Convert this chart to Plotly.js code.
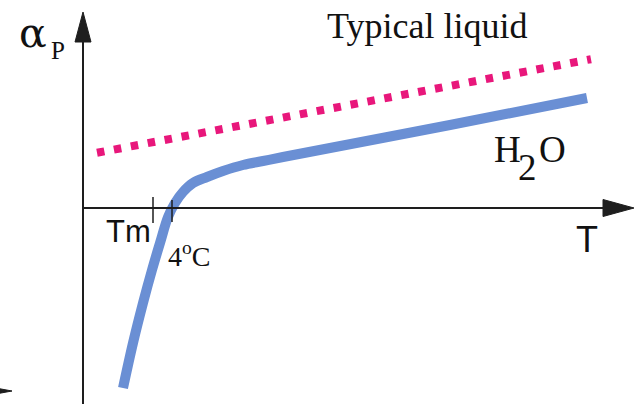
<!DOCTYPE html>
<html>
<head>
<meta charset="utf-8">
<script src="https://cdn.plot.ly/plotly-3.0.1.min.js"></script>
<style>
  html, body { margin: 0; padding: 0; background: #ffffff; }
  #chart { width: 637px; height: 404px; }
</style>
</head>
<body>
<div id="chart"></div>
<script>
// Schematic thermal expansion coefficient alpha_P against temperature T.
// Units are arbitrary; the axes cross at (0, 0).

// Water: steep rise through the melting region, then a gentle linear growth.
const waterT     = [4.0, 5.0, 6.0, 6.9, 7.7, 8.5, 9.2, 10.0, 11.0, 12.4, 14.0, 16.0, 18.0, 20.0, 36.7, 50.4];
const waterAlpha = [-18.0, -13.5, -9.5, -6.2, -3.5, -0.9, 0.5, 1.6, 2.5, 3.1, 3.7, 4.3, 4.7, 5.1, 8.3, 11.0];

// Typical liquid: a straight, positive line.
const liquidT     = [1.4, 50.8];
const liquidAlpha = [5.52, 14.88];

// Marked temperatures on the T axis.
const tickNames = ["Tm", "4°C"];
const tickT     = [7.0, 8.9];

const xRange = [-8.3, 55.4];
const yRange = [-19.6, 20.8];

const axisColor = "#1e1e1e";
const serif = "Liberation Serif, Times New Roman, serif";
const sans  = "Liberation Sans, Arial, sans-serif";

const traces = [
  {
    x: liquidT, y: liquidAlpha, mode: "lines", type: "scatter",
    line: { color: "#e8177b", width: 8, dash: "7.5px,9.7px" },
    hoverinfo: "skip"
  },
  {
    x: waterT, y: waterAlpha, mode: "lines", type: "scatter",
    line: { color: "#6a8fd4", width: 10, shape: "spline", smoothing: 1.0 },
    hoverinfo: "skip"
  }
];

const shapes = [
  // vertical axis and its arrow head
  { type: "line", xref: "x", yref: "y", x0: 0, x1: 0, y0: yRange[0], y1: 17.0,
    line: { color: axisColor, width: 2 } },
  { type: "path", xref: "x", yref: "y",
    path: "M -0.8,16.6 L 0,19.6 L 0.8,16.6 Z",
    fillcolor: axisColor, line: { color: axisColor, width: 1 } },
  // horizontal axis and its arrow head
  { type: "line", xref: "x", yref: "y", x0: 0, x1: 52.2, y0: 0, y1: 0,
    line: { color: axisColor, width: 2 } },
  { type: "path", xref: "x", yref: "y",
    path: "M 52.0,0.85 L 55.1,0 L 52.0,-0.85 Z",
    fillcolor: axisColor, line: { color: axisColor, width: 1 } },
  // arrow head of a neighbouring axis peeking in at the lower left
  { type: "path", xref: "x", yref: "y",
    path: "M -9.3,-17.9 L -7.1,-18.3 L -9.3,-18.7 Z",
    fillcolor: axisColor, line: { color: axisColor, width: 1 } }
];

// tick marks for Tm and 4°C
const tickSpan = [[1.1, -1.5], [0.8, -1.4]];
tickT.forEach((t, i) => {
  shapes.push({ type: "line", xref: "x", yref: "y", x0: t, x1: t,
    y0: tickSpan[i][1], y1: tickSpan[i][0],
    line: { color: axisColor, width: 1.5 } });
});

const annotations = [
  { x: -6.6, y: 17.5, text: "α", font: { family: "DejaVu Serif, serif", size: 41, color: "#111" },
    xanchor: "left", yanchor: "middle", showarrow: false },
  { x: -3.4, y: 15.8, text: "P", font: { family: serif, size: 25, color: "#111" },
    xanchor: "left", yanchor: "middle", showarrow: false },
  { x: 34.4, y: 18.2, text: "Typical liquid", font: { family: serif, size: 36, color: "#111" },
    xanchor: "center", yanchor: "middle", showarrow: false },
  { x: 42.45, y: 5.85, text: "H", font: { family: serif, size: 37, color: "#111" },
    xanchor: "center", yanchor: "middle", showarrow: false },
  { x: 44.45, y: 4.1, text: "2", font: { family: serif, size: 37, color: "#111" },
    xanchor: "center", yanchor: "middle", showarrow: false },
  { x: 46.95, y: 5.85, text: "O", font: { family: serif, size: 37, color: "#111" },
    xanchor: "center", yanchor: "middle", showarrow: false },
  { x: 50.4, y: -3.1, text: "T", font: { family: sans, size: 36, color: "#111" },
    xanchor: "center", yanchor: "middle", showarrow: false },
  { x: tickT[0] - 4.9, y: -2.3, text: tickNames[0], font: { family: sans, size: 31, color: "#111" },
    xanchor: "left", yanchor: "middle", showarrow: false },
  { x: tickT[1] - 0.6, y: -4.6, text: "4<sup>o</sup>C", font: { family: serif, size: 28, color: "#111" },
    xanchor: "left", yanchor: "middle", showarrow: false }
];

const layout = {
  width: 637, height: 404,
  margin: { l: 0, r: 0, t: 0, b: 0, pad: 0 },
  paper_bgcolor: "#ffffff", plot_bgcolor: "#ffffff",
  showlegend: false,
  xaxis: { range: xRange, visible: false, fixedrange: true },
  yaxis: { range: yRange, visible: false, fixedrange: true },
  shapes: shapes,
  annotations: annotations
};

Plotly.newPlot("chart", traces, layout, { staticPlot: true, displayModeBar: false });
</script>
</body>
</html>
